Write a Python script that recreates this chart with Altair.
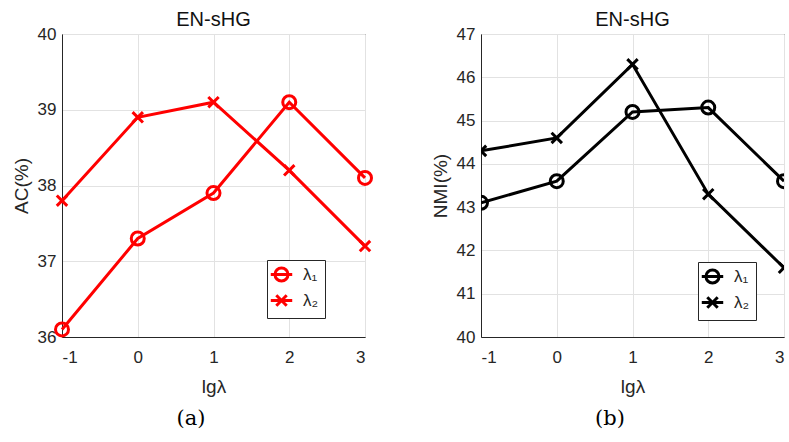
import altair as alt
import pandas as pd

# ---- data ----
lg_lambda = [-1, 0, 1, 2, 3]
series_names = ["λ₁", "λ₂"]
ac_lambda1 = [36.1, 37.3, 37.9, 39.1, 38.1]
ac_lambda2 = [37.8, 38.9, 39.1, 38.2, 37.2]
nmi_lambda1 = [43.1, 43.6, 45.2, 45.3, 43.6]
nmi_lambda2 = [44.3, 44.6, 46.3, 43.3, 41.6]
ac_ticks = [36, 37, 38, 39, 40]
nmi_ticks = [40, 41, 42, 43, 44, 45, 46, 47]

FONT = "Liberation Sans"
AXC = "#262626"
X_PATH = "M-0.8,-0.8L0.8,0.8M-0.8,0.8L0.8,-0.8"
LEG_O = "M-1.65,0L1.65,0M1,0A1,1,0,1,1,-1,0A1,1,0,1,1,1,0"
LEG_X = "M-1.65,0L1.65,0M-0.8,-0.8L0.8,0.8M-0.8,0.8L0.8,-0.8"


def make_df(v1, v2):
    rows = []
    for name, vals in zip(series_names, [v1, v2]):
        for xv, yv in zip(lg_lambda, vals):
            rows.append({"x": xv, "y": yv, "s": name})
    return pd.DataFrame(rows)


def panel(df, color, ytitle, ticks, caption, lx, ly, clip):
    x = alt.X("x:Q", scale=alt.Scale(domain=[-1, 3], nice=False),
              axis=alt.Axis(values=lg_lambda, title="lgλ", labelExpr="'' + datum.value"))
    y = alt.Y("y:Q", scale=alt.Scale(domain=[ticks[0], ticks[-1]], nice=False),
              axis=alt.Axis(values=ticks, title=ytitle, labelExpr="'' + datum.value"))
    base = alt.Chart(df)
    line = base.mark_line(color=color, strokeWidth=3, clip=clip).encode(x=x, y=y, detail="s:N")
    pts = base.mark_point(color=color, filled=False, strokeWidth=3, size=169, opacity=1, clip=clip).encode(
        x=x, y=y,
        shape=alt.Shape("s:N", scale=alt.Scale(domain=series_names, range=["circle", X_PATH]), legend=None),
    )
    leg = base.mark_point(color=color, filled=False, strokeWidth=3, size=169, opacity=1).encode(
        x=x, y=y,
        shape=alt.Shape("s:N", scale=alt.Scale(domain=series_names, range=[LEG_O, LEG_X]),
                        legend=alt.Legend(
                            title=None, orient="none", legendX=lx, legendY=ly,
                            strokeColor=AXC, fillColor="white", padding=6,
                            symbolSize=169, symbolStrokeWidth=3, symbolStrokeColor=color,
                            symbolFillColor="transparent", symbolOpacity=1,
                            labelFont=FONT, labelFontSize=17, labelColor=AXC,
                            labelOffset=13, rowPadding=2, cornerRadius=0,
                        )),
    ).transform_filter("datum.x > 100")
    cap = base.mark_text(font="DejaVu Serif", fontSize=21, color="black", baseline="middle").encode(
        x=alt.value(129), y=alt.value(385), text=alt.value(caption)
    ).transform_filter("datum.x == -1 && datum.s == 'λ₁'")
    return alt.layer(line, pts, leg, cap).resolve_scale(shape="independent").properties(
        width=303, height=303, title="EN-sHG"
    )


left = panel(make_df(ac_lambda1, ac_lambda2), "#ff0000", "AC(%)", ac_ticks, "(a)", 205, 226, False)
right = panel(make_df(nmi_lambda1, nmi_lambda2), "#000000", "NMI(%)", nmi_ticks, "(b)", 217, 228, True)

chart = alt.hconcat(left, right, spacing=116, bounds="flush").properties(
    padding={"left": 11, "top": 9, "right": 0, "bottom": 0}
).configure_view(
    stroke=AXC, strokeWidth=1
).configure_axis(
    domainColor=AXC, domainWidth=1, ticks=False, grid=True, gridColor="#e2e2e2", gridWidth=1,
    labelFont=FONT, labelFontSize=17, labelColor=AXC,
    titleFont=FONT, titleFontSize=19, titleFontWeight="normal", titleColor=AXC,
).configure_axisX(
    labelPadding=12, titlePadding=12
).configure_axisY(
    labelPadding=6, titlePadding=6
).configure_title(
    font=FONT, fontSize=20, fontWeight="normal", color="#111111", offset=-5, anchor="middle"
)

chart.save("out.html", embed_options={"renderer": "svg", "actions": False})
